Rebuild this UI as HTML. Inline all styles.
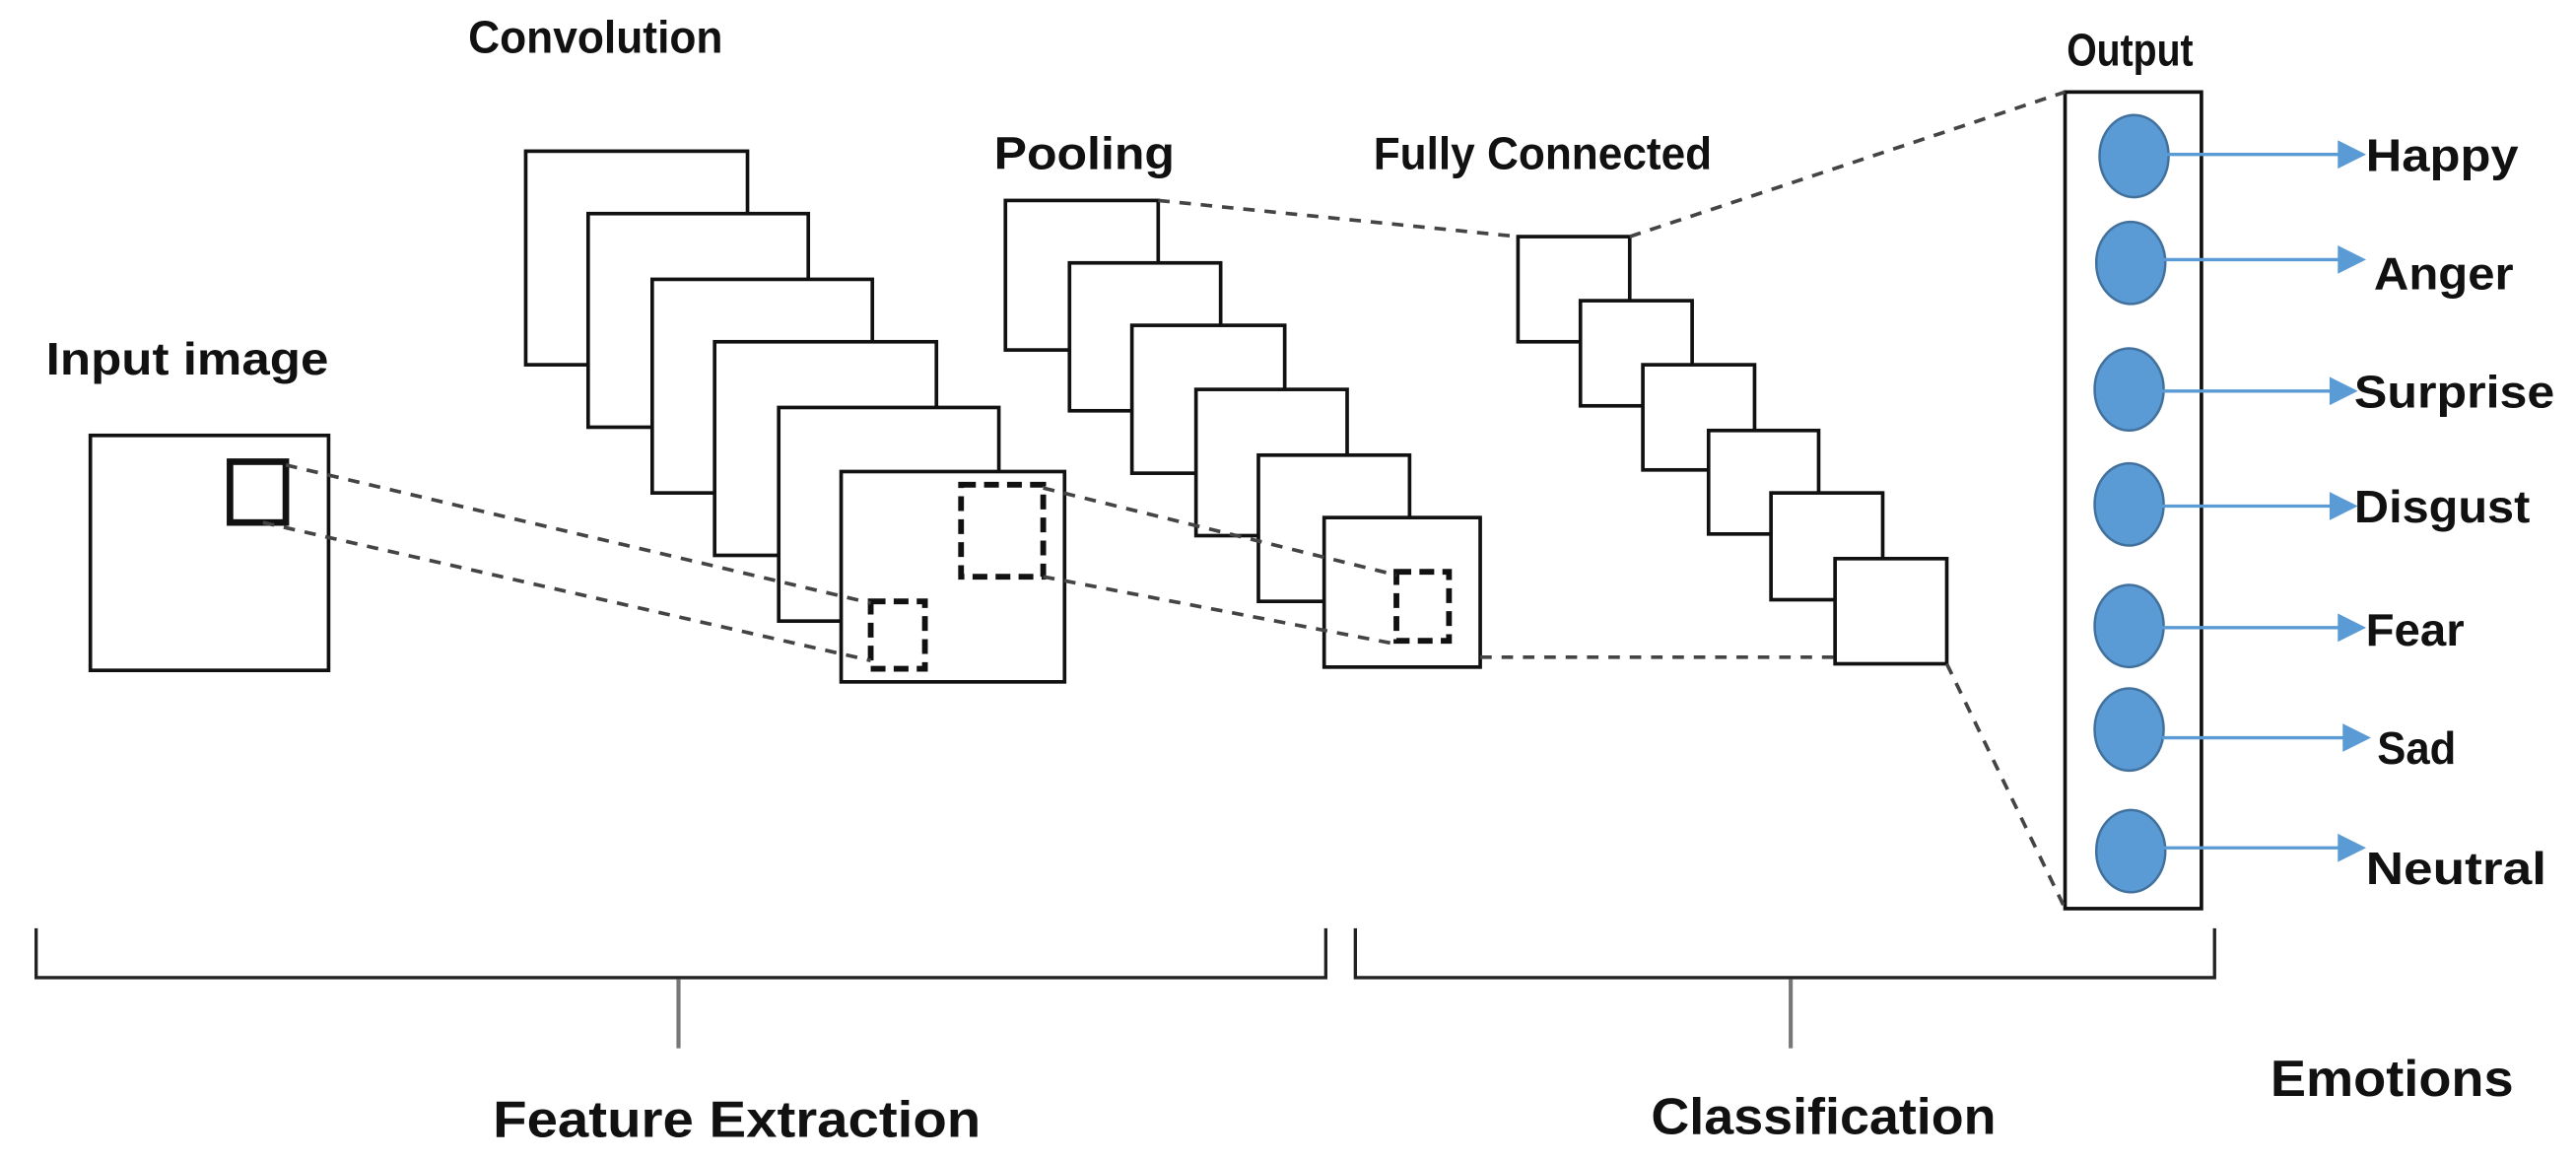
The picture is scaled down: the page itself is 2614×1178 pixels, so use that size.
<!DOCTYPE html>
<html><head><meta charset="utf-8"><style>html,body{margin:0;padding:0;background:#fff}svg{display:block}</style></head>
<body>
<svg width="2614" height="1178" viewBox="0 0 1568 706.6" xmlns="http://www.w3.org/2000/svg">
<rect width="1568" height="707" fill="#fff"/>
<g font-family="Liberation Sans, sans-serif" font-weight="bold" font-size="28" fill="#111">
<text x="285" y="32" textLength="155" lengthAdjust="spacingAndGlyphs">Convolution</text>
<text x="605" y="103" textLength="110" lengthAdjust="spacingAndGlyphs">Pooling</text>
<text x="836" y="103" textLength="206" lengthAdjust="spacingAndGlyphs">Fully Connected</text>
<text x="1258" y="40" textLength="77" lengthAdjust="spacingAndGlyphs">Output</text>
<text x="28" y="228" textLength="172" lengthAdjust="spacingAndGlyphs">Input image</text>
<text x="1440" y="104" textLength="93" lengthAdjust="spacingAndGlyphs">Happy</text>
<text x="1445" y="176" textLength="85" lengthAdjust="spacingAndGlyphs">Anger</text>
<text x="1433" y="248" textLength="122" lengthAdjust="spacingAndGlyphs">Surprise</text>
<text x="1433" y="318" textLength="107" lengthAdjust="spacingAndGlyphs">Disgust</text>
<text x="1440" y="393" textLength="60" lengthAdjust="spacingAndGlyphs">Fear</text>
<text x="1447" y="465" textLength="48" lengthAdjust="spacingAndGlyphs">Sad</text>
<text x="1440" y="538" textLength="110" lengthAdjust="spacingAndGlyphs">Neutral</text>
<text x="300" y="692" textLength="297" lengthAdjust="spacingAndGlyphs" font-size="31">Feature Extraction</text>
<text x="1005" y="690" textLength="210" lengthAdjust="spacingAndGlyphs" font-size="31">Classification</text>
<text x="1382" y="667" textLength="148" lengthAdjust="spacingAndGlyphs" font-size="31">Emotions</text>
</g>
<g fill="#fff" stroke="#111" stroke-width="2.2">
<rect x="55" y="265" width="145" height="143"/>
<rect x="140" y="281" width="34" height="37" stroke-width="4"/>
<rect x="320" y="92" width="135" height="130"/>
<rect x="358" y="130" width="134" height="130"/>
<rect x="397" y="170" width="134" height="130"/>
<rect x="435" y="208" width="135" height="130"/>
<rect x="474" y="248" width="134" height="130"/>
<rect x="512" y="287" width="136" height="128"/>
<rect x="612" y="122" width="93" height="91"/>
<rect x="651" y="160" width="92" height="90"/>
<rect x="689" y="198" width="93" height="90"/>
<rect x="728" y="237" width="92" height="89"/>
<rect x="766" y="277" width="92" height="89"/>
<rect x="806" y="315" width="95" height="91"/>
<rect x="924" y="144" width="68" height="64"/>
<rect x="962" y="183" width="68" height="64"/>
<rect x="1000" y="222" width="68" height="64"/>
<rect x="1040" y="262" width="67" height="63"/>
<rect x="1078" y="300" width="68" height="65"/>
<rect x="1117" y="340" width="68" height="64"/>
<rect x="1257" y="56" width="83" height="497"/>
</g>
<g fill="none" stroke="#111" stroke-width="3.5" stroke-dasharray="9,5">
<rect x="585" y="295" width="50" height="56"/>
<rect x="530" y="366" width="33" height="41"/>
<rect x="850" y="348" width="32" height="42"/>
</g>
<g stroke="#444" stroke-width="2.2" stroke-dasharray="7,6" fill="none">
<line x1="174" y1="283" x2="530" y2="367"/>
<line x1="160" y1="318" x2="530" y2="402"/>
<line x1="635" y1="297" x2="850" y2="350"/>
<line x1="635" y1="351" x2="850" y2="392"/>
<line x1="705" y1="122" x2="924" y2="144"/>
<line x1="901" y1="400" x2="1117" y2="400"/>
<line x1="992" y1="144" x2="1257" y2="56"/>
<line x1="1185" y1="404" x2="1257" y2="553"/>
</g>
<g fill="#5b9bd5" stroke="#41719c" stroke-width="1.5">
<ellipse cx="1299" cy="95" rx="21" ry="25"/>
<ellipse cx="1297" cy="160" rx="21" ry="25"/>
<ellipse cx="1296" cy="237" rx="21" ry="25"/>
<ellipse cx="1296" cy="307" rx="21" ry="25"/>
<ellipse cx="1296" cy="381" rx="21" ry="25"/>
<ellipse cx="1296" cy="444" rx="21" ry="25"/>
<ellipse cx="1297" cy="518" rx="21" ry="25"/>
</g>
<g stroke="#5b9bd5" stroke-width="2" fill="#5b9bd5">
<line x1="1318" y1="94" x2="1425" y2="94"/><polygon points="1424,87 1438,94 1424,101"/>
<line x1="1316" y1="158" x2="1425" y2="158"/><polygon points="1424,151 1438,158 1424,165"/>
<line x1="1314" y1="238" x2="1420" y2="238"/><polygon points="1419,231 1433,238 1419,245"/>
<line x1="1314" y1="308" x2="1420" y2="308"/><polygon points="1419,301 1433,308 1419,315"/>
<line x1="1314" y1="382" x2="1425" y2="382"/><polygon points="1424,375 1438,382 1424,389"/>
<line x1="1316" y1="449" x2="1428" y2="449"/><polygon points="1427,442 1441,449 1427,456"/>
<line x1="1316" y1="516" x2="1425" y2="516"/><polygon points="1424,509 1438,516 1424,523"/>
</g>
<g stroke="#222" stroke-width="2" fill="none">
<polyline points="22,565 22,595 807,595 807,565"/>
<polyline points="825,565 825,595 1348,595 1348,565"/>
</g>
<g stroke="#777" stroke-width="2.5">
<line x1="413" y1="596" x2="413" y2="638"/>
<line x1="1090" y1="596" x2="1090" y2="638"/>
</g>
</svg>
</body></html>
